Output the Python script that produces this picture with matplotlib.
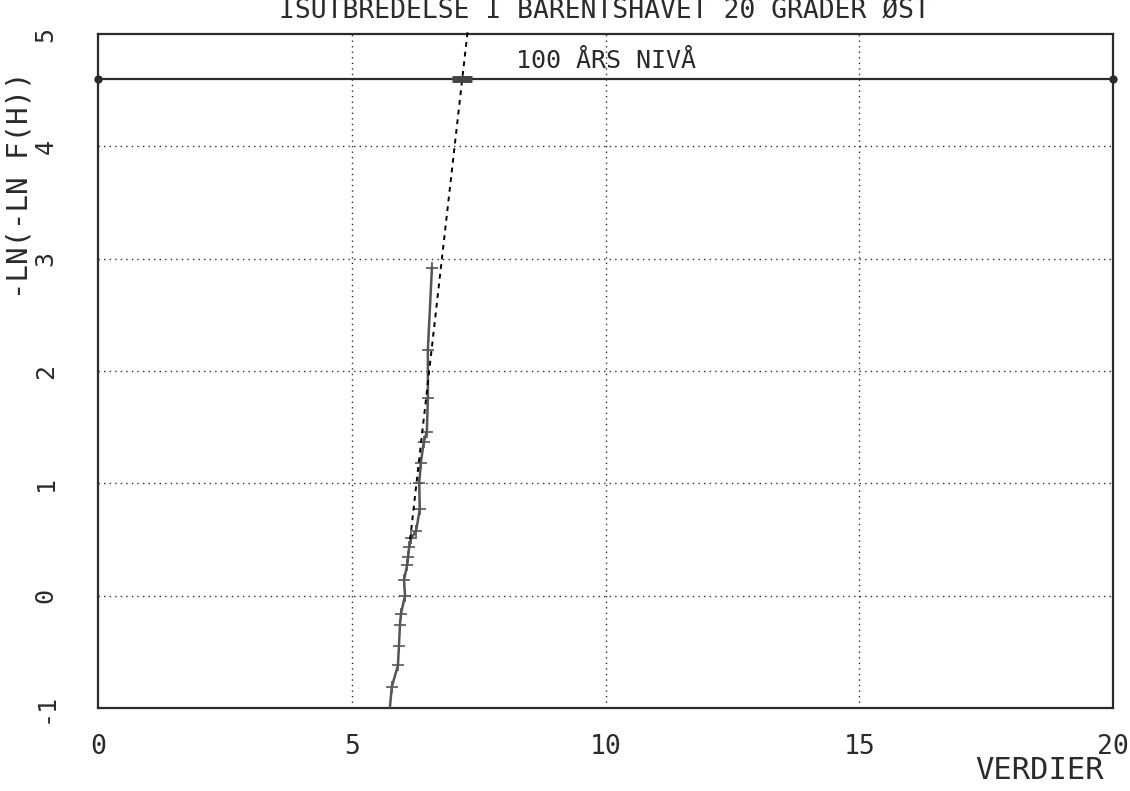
import numpy as np
import matplotlib
matplotlib.use('Agg')
import matplotlib.pyplot as plt

# observed points (verdier vs -ln(-ln F(H)))
obs_x = [5.72, 5.79, 5.91, 5.93, 5.95, 5.97, 6.05, 6.03, 6.09, 6.11, 6.13, 6.17,
         6.27, 6.34, 6.33, 6.36, 6.42, 6.48, 6.50, 6.50, 6.58]
obs_y = [-1.15, -0.81, -0.62, -0.45, -0.26, -0.16, 0.0, 0.14, 0.27, 0.34, 0.43, 0.51,
         0.58, 0.77, 1.00, 1.18, 1.37, 1.46, 1.76, 2.19, 2.92]

# fitted gumbel line
fit_x = [6.15, 7.29]
fit_y = [0.50, 5.05]

level_100 = 4.60
xticks = [0, 5, 10, 15, 20]
yticks = [-1, 0, 1, 2, 3, 4, 5]

plt.rcParams['font.family'] = ['DejaVu Sans Mono', 'DejaVu Sans']

fig = plt.figure(figsize=(11.3, 7.91), dpi=100)
ax = fig.add_axes([0.0867, 0.1049, 0.8983, 0.8521])
ax.set_xlim(0, 20)
ax.set_ylim(-1, 5)

ink = '#2b2b2b'

# grid
for gx in xticks[1:-1]:
    ax.axvline(gx, color=ink, lw=1.0, ls=(0, (1, 3)), zorder=1)
for gy in yticks[1:-1]:
    ax.axhline(gy, color=ink, lw=1.0, ls=(0, (1, 3)), zorder=1)

# 100 year level
ax.plot([0, 20], [level_100, level_100], color=ink, lw=1.6, marker='o', ms=5,
        clip_on=False, zorder=3)
ax.text(10, 4.76, '100 ÅRS NIVÅ', ha='center', va='center', fontsize=18, color=ink)

# fitted line and data
ax.plot(fit_x, fit_y, color='black', lw=1.4, ls=(0, (2.5, 2.5)), clip_on=False, zorder=4)
ax.plot(obs_x, obs_y, color='#555555', lw=1.8, marker='+', ms=9, mew=1.2, zorder=3)

x100 = np.interp(level_100, fit_y, fit_x)
ax.plot([x100], [level_100], marker='_', ms=14, mew=5, color='#444444', zorder=5)

for s in ax.spines.values():
    s.set_color(ink)
    s.set_linewidth(1.6)

ax.set_xticks(xticks)
ax.set_xticklabels([str(t) for t in xticks], fontsize=19, color=ink)
ax.set_yticks(yticks)
ax.set_yticklabels([str(t) for t in yticks], fontsize=18, color=ink, rotation=90, va='center')
ax.tick_params(length=0)
ax.tick_params(axis='x', pad=19)
ax.tick_params(axis='y', pad=29)

fig.text(0.017, 0.766, '-LN(-LN F(H))', rotation=90, ha='center', va='center',
         fontsize=21, color=ink)
fig.text(0.977, 0.008, 'VERDIER', ha='right', va='bottom', fontsize=22, color=ink)
fig.text(0.535, 0.985, 'ISUTBREDELSE I BARENTSHAVET 20 GRADER ØST', ha='center', va='center',
         fontsize=19, color=ink)

fig.savefig('out.png', dpi=100)
